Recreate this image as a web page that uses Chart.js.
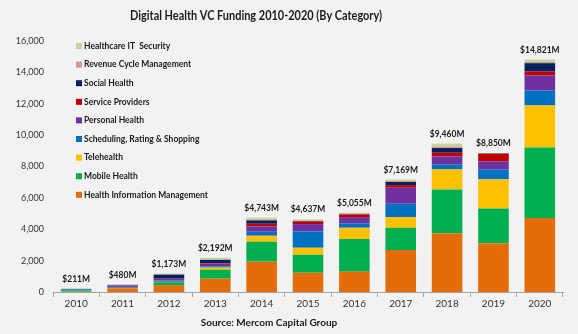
<!DOCTYPE html>
<html>
<head>
<meta charset="utf-8">
<script src="https://cdn.jsdelivr.net/npm/chart.js@4/dist/chart.umd.min.js"></script>
<style>
  html, body { margin: 0; padding: 0; background: #f2f2f2; }
  #wrap { width: 578px; height: 334px; }
</style>
</head>
<body>
<div id="wrap"><canvas id="c" width="578" height="334"></canvas></div>
<script>
// Digital health VC funding by category, $M
const years = ['2010','2011','2012','2013','2014','2015','2016','2017','2018','2019','2020'];

const healthInfoMgmt   = [20, 235, 440, 850, 1930, 1230, 1295, 2675, 3740, 3100, 4713];
const mobileHealth     = [80, 20, 185, 570, 1275, 1145, 2080, 1420, 2800, 2230, 4503];
const telehealth       = [5, 10, 25, 140, 380, 445, 720, 680, 1275, 1850, 2675];
const schedulingRating = [70, 60, 75, 70, 255, 1045, 280, 850, 320, 640, 955];
const personalHealth   = [10, 90, 110, 180, 345, 465, 400, 1020, 510, 510, 955];
const serviceProviders = [5, 15, 20, 40, 165, 150, 170, 170, 235, 470, 255];
const socialHealth     = [5, 20, 250, 200, 215, 40, 20, 200, 295, 30, 530];
const revenueCycle     = [6, 20, 10, 22, 60, 40, 40, 60, 100, 10, 80];
const itSecurity       = [10, 10, 58, 120, 118, 77, 50, 94, 185, 10, 155];

const yTicks = [0, 2000, 4000, 6000, 8000, 10000, 12000, 14000, 16000];

const series = [
  { label: 'Health Information Management', data: healthInfoMgmt,   color: '#E46C0A' },
  { label: 'Mobile Health',                 data: mobileHealth,     color: '#00B050' },
  { label: 'Telehealth',                    data: telehealth,       color: '#FFC000' },
  { label: 'Scheduling, Rating & Shopping', data: schedulingRating, color: '#0070C0' },
  { label: 'Personal Health',               data: personalHealth,   color: '#7030A0' },
  { label: 'Service Providers',             data: serviceProviders, color: '#C00000' },
  { label: 'Social Health',                 data: socialHealth,     color: '#002060' },
  { label: 'Revenue Cycle Management',      data: revenueCycle,     color: '#DA9694' },
  { label: 'Healthcare IT  Security',       data: itSecurity,       color: '#C4D79B' }
];

const fmt = v => String(v).replace(/\B(?=(\d{3})+(?!\d))/g, ',');
const totals = years.map((_, i) => series.reduce((s, d) => s + d.data[i], 0));

const FONT = 'Lato, "Open Sans", sans-serif';

// draws text slightly condensed horizontally
function condensed(ctx, text, x, y, squeeze) {
  const w = ctx.measureText(text).width;
  ctx.fillText(text, x, y, w * squeeze);
}

// Title, source line, total labels and in-plot legend
const decorations = {
  id: 'decorations',
  afterDatasetsDraw(chart) {
    const ctx = chart.ctx;
    const x = chart.scales.x, y = chart.scales.y;
    ctx.save();
    ctx.fillStyle = '#1a1a1a';
    ctx.textAlign = 'center';
    ctx.textBaseline = 'middle';

    ctx.font = 'bold 13.5px ' + FONT;
    ctx.fillText('Digital Health VC Funding 2010-2020 (By Category)', 256, 16, 252);

    ctx.font = 'bold 10px ' + FONT;
    ctx.fillText('Source: Mercom Capital Group', 269, 323, 138);

    ctx.font = 'bold 10px ' + FONT;
    ctx.textBaseline = 'bottom';
    totals.forEach((t, i) => {
      condensed(ctx, '$' + fmt(t) + 'M', x.getPixelForValue(i), y.getPixelForValue(t) - 5, 0.85);
    });

    ctx.textAlign = 'left';
    ctx.textBaseline = 'middle';
    ctx.font = 'bold 8.5px ' + FONT;
    const n = chart.data.datasets.length;
    for (let k = 0; k < n; k++) {
      const ds = chart.data.datasets[n - 1 - k];
      const ly = 46 + k * 18.6;
      ctx.fillStyle = ds.backgroundColor;
      ctx.fillRect(76, ly - 3, 6, 6);
      ctx.fillStyle = '#1a1a1a';
      ctx.fillText(ds.label, 84, ly);
    }
    ctx.restore();
  }
};

new Chart(document.getElementById('c'), {
  type: 'bar',
  data: {
    labels: years,
    datasets: series.map(s => ({
      label: s.label,
      data: s.data,
      backgroundColor: s.color,
      borderWidth: 0,
      barPercentage: 0.66,
      categoryPercentage: 1.0
    }))
  },
  options: {
    responsive: false,
    animation: false,
    devicePixelRatio: 1,
    layout: { padding: { top: 41, right: 15, bottom: 22, left: 0 } },
    plugins: {
      legend: { display: false },
      title: { display: false },
      tooltip: { enabled: false }
    },
    scales: {
      x: {
        stacked: true,
        offset: true,
        grid: { display: true, drawOnChartArea: false, drawTicks: true, tickLength: 5, color: '#a6a6a6', offset: true },
        border: { display: true, color: '#a6a6a6' },
        ticks: { color: '#333', font: { family: FONT, size: 10 }, padding: 1 },
        afterFit: s => { s.height = 20; }
      },
      y: {
        stacked: true,
        min: 0,
        max: 16000,
        afterBuildTicks: s => { s.ticks = yTicks.map(v => ({ value: v })); },
        grid: { display: false, drawTicks: false },
        border: { display: false },
        ticks: { color: '#333', font: { family: FONT, size: 9 }, padding: 9, callback: v => fmt(v) },
        afterFit: s => { s.width = 53; }
      }
    }
  },
  plugins: [decorations]
});
</script>
</body>
</html>
